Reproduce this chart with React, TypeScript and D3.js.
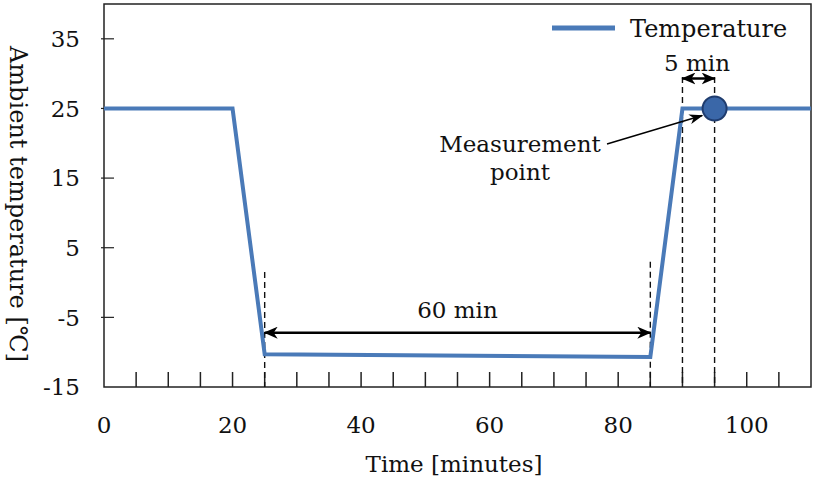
import React from "react";
import * as d3 from "d3";

// temperature profile (minutes, °C)
const times = [0, 20, 25, 85, 90, 110];
const temps = [25, 25, -10.3, -10.7, 25, 25];

const xTickLabels = [0, 20, 40, 60, 80, 100];
const xMinorTicks = d3.range(5, 110, 5);
const yTickLabels = [35, 25, 15, 5, -5, -15];

// dashed guide lines: x position and top value
const guideX = [25, 85, 90, 95];
const guideTop = [1.5, 3, 29.5, 29.5];

const measurePoint = { t: 95, v: 25 };
const span60 = { from: 25, to: 85, v: -7.2, label: "60 min" };
const span5 = { from: 90, to: 95, v: 29.3, label: "5 min" };

const W = 813;
const H = 484;
const font = "'DejaVu Serif', serif";

export default function App() {
  const x = d3.scaleLinear().domain([0, 110]).range([104, 811]);
  const y = d3.scaleLinear().domain([-15, 40]).range([387, 4]);

  const line = d3
    .line<number>()
    .x((_, i) => x(times[i]))
    .y((d) => y(d));

  const cx = x(measurePoint.t);
  const cy = y(measurePoint.v);
  const r = 12;
  // annotation leader from end of text to the circle edge
  const lx = 607;
  const ly = 144;
  const dx = lx - cx;
  const dy = ly - cy;
  const len = Math.hypot(dx, dy);
  const tipX = cx + (dx / len) * (r + 1);
  const tipY = cy + (dy / len) * (r + 1) + 3;

  const blue = "#4a7ab8";

  return (
    <svg
      width={W}
      height={H}
      style={{ position: "absolute", left: 0, top: 0, background: "#fff" }}
      fontFamily={font}
    >
      <defs>
        <marker
          id="head"
          viewBox="0 0 14 12"
          refX={13}
          refY={6}
          markerWidth={14}
          markerHeight={12}
          markerUnits="userSpaceOnUse"
          orient="auto-start-reverse"
        >
          <path d="M0,0 L14,6 L0,12 L4,6 Z" fill="#000" />
        </marker>
        <marker
          id="headThin"
          viewBox="0 0 14 10"
          refX={13}
          refY={5}
          markerWidth={14}
          markerHeight={10}
          markerUnits="userSpaceOnUse"
          orient="auto"
        >
          <path d="M0,0 L14,5 L0,10 L4,5 Z" fill="#000" />
        </marker>
      </defs>

      {/* plot frame */}
      <rect
        x={x(0)}
        y={y(40)}
        width={x(110) - x(0)}
        height={y(-15) - y(40)}
        fill="none"
        stroke="#222"
        strokeWidth={1.5}
      />

      {/* x minor ticks (inside, upward) */}
      {xMinorTicks.map((t) => (
        <line
          key={t}
          x1={x(t)}
          x2={x(t)}
          y1={y(-15)}
          y2={y(-15) - 15}
          stroke="#222"
          strokeWidth={1.5}
        />
      ))}

      {/* y ticks crossing the axis */}
      {yTickLabels
        .filter((v) => v !== -15)
        .map((v) => (
          <line
            key={v}
            x1={x(0) - 3}
            x2={x(0) + 10}
            y1={y(v)}
            y2={y(v)}
            stroke="#222"
            strokeWidth={1.2}
          />
        ))}

      {/* tick labels */}
      {yTickLabels.map((v) => (
        <text
          key={v}
          x={80}
          y={y(v)}
          dy="0.36em"
          textAnchor="end"
          fontSize={23}
          fill="#111"
        >
          {v}
        </text>
      ))}
      {xTickLabels.map((t) => (
        <text
          key={t}
          x={x(t)}
          y={433}
          textAnchor="middle"
          fontSize={23}
          fill="#111"
        >
          {t}
        </text>
      ))}

      {/* axis titles */}
      <text x={454} y={472} textAnchor="middle" fontSize={23} fill="#111">
        Time [minutes]
      </text>
      <text
        transform={`translate(10, 204) rotate(90)`}
        textAnchor="middle"
        fontSize={24}
        fill="#111"
      >
        Ambient temperature [℃]
      </text>

      {/* dashed guides */}
      {guideX.map((t, i) => (
        <line
          key={t}
          x1={x(t)}
          x2={x(t)}
          y1={y(guideTop[i])}
          y2={y(-15)}
          stroke="#111"
          strokeWidth={1.4}
          strokeDasharray="6,4"
        />
      ))}

      {/* temperature line */}
      <path
        d={line(temps) || ""}
        fill="none"
        stroke={blue}
        strokeWidth={4}
        strokeLinejoin="miter"
      />

      {/* measurement point */}
      <circle cx={cx} cy={cy} r={r} fill="#3a67a8" stroke="#1f3c6e" strokeWidth={2} />

      {/* span arrows */}
      <line
        x1={x(span60.from)}
        x2={x(span60.to)}
        y1={y(span60.v)}
        y2={y(span60.v)}
        stroke="#000"
        strokeWidth={2.5}
        markerStart="url(#head)"
        markerEnd="url(#head)"
      />
      <text
        x={(x(span60.from) + x(span60.to)) / 2}
        y={318}
        textAnchor="middle"
        fontSize={23}
        fill="#111"
      >
        {span60.label}
      </text>
      <line
        x1={x(span5.from)}
        x2={x(span5.to)}
        y1={y(span5.v)}
        y2={y(span5.v)}
        stroke="#000"
        strokeWidth={2.5}
        markerStart="url(#head)"
        markerEnd="url(#head)"
      />
      <text x={697} y={71} textAnchor="middle" fontSize={23} fill="#111">
        {span5.label}
      </text>

      {/* measurement annotation */}
      <text x={520} y={152} textAnchor="middle" fontSize={23} fill="#111">
        Measurement
      </text>
      <text x={520} y={180} textAnchor="middle" fontSize={23} fill="#111">
        point
      </text>
      <line
        x1={lx}
        y1={ly}
        x2={tipX}
        y2={tipY}
        stroke="#000"
        strokeWidth={1.4}
        markerEnd="url(#headThin)"
      />

      {/* legend */}
      <line x1={552} x2={615} y1={28} y2={28} stroke={blue} strokeWidth={5} />
      <text x={630} y={37} fontSize={24} fill="#111">
        Temperature
      </text>
    </svg>
  );
}
